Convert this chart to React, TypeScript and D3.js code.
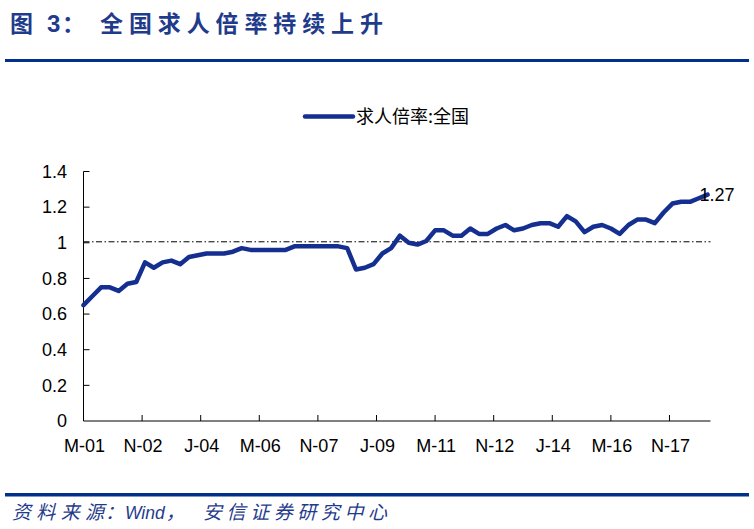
import React from "react";
import * as d3 from "d3";

// Quarterly observations (month, value)
const months: string[] = [
  "2001-03","2001-06","2001-09","2001-12","2002-03","2002-06","2002-09","2002-12",
  "2003-03","2003-06","2003-09","2003-12","2004-03","2004-06","2004-09","2004-12",
  "2005-03","2005-06","2005-09","2005-12","2006-03","2006-06","2006-09","2006-12",
  "2007-03","2007-06","2007-09","2007-12","2008-03","2008-06","2008-09","2008-12",
  "2009-03","2009-06","2009-09","2009-12","2010-03","2010-06","2010-09","2010-12",
  "2011-03","2011-06","2011-09","2011-12","2012-03","2012-06","2012-09","2012-12",
  "2013-03","2013-06","2013-09","2013-12","2014-03","2014-06","2014-09","2014-12",
  "2015-03","2015-06","2015-09","2015-12","2016-03","2016-06","2016-09","2016-12",
  "2017-03","2017-06","2017-09","2017-12","2018-03","2018-06","2018-09","2018-12",
];
const ratio: number[] = [
  0.65, 0.70, 0.75, 0.75, 0.73, 0.77, 0.78, 0.89,
  0.86, 0.89, 0.90, 0.88, 0.92, 0.93, 0.94, 0.94,
  0.94, 0.95, 0.97, 0.96, 0.96, 0.96, 0.96, 0.96,
  0.98, 0.98, 0.98, 0.98, 0.98, 0.98, 0.97, 0.85,
  0.86, 0.88, 0.94, 0.97, 1.04, 1.00, 0.99, 1.01,
  1.07, 1.07, 1.04, 1.04, 1.08, 1.05, 1.05, 1.08,
  1.10, 1.07, 1.08, 1.10, 1.11, 1.11, 1.09, 1.15,
  1.12, 1.06, 1.09, 1.10, 1.08, 1.05, 1.10, 1.13,
  1.13, 1.11, 1.17, 1.22, 1.23, 1.23, 1.25, 1.27,
];
const xTickLabels: string[] = ["M-01","N-02","J-04","M-06","N-07","J-09","M-11","N-12","J-14","M-16","N-17"];
const xTickMonths: string[] = ["2001-03","2002-11","2004-07","2006-03","2007-11","2009-07","2011-03","2012-11","2014-07","2016-03","2017-11"];
const yTicks: number[] = [0, 0.2, 0.4, 0.6, 0.8, 1, 1.2, 1.4];
const yTickLabels: string[] = ["0", "0.2", "0.4", "0.6", "0.8", "1", "1.2", "1.4"];
const refValue = 1;
const axisEndMonth = "2019-01";
const lastLabel = "1.27";
const seriesName = "求人倍率:全国";

const monthIndex = (s: string) => {
  const [y, m] = s.split("-").map(Number);
  return (y - 2001) * 12 + (m - 3);
};

export default function App() {
  const W = 754, H = 529;
  const left = 83.5, right = 710.5, top = 171.5, bottom = 421;
  const x = d3.scaleLinear().domain([0, monthIndex(axisEndMonth)]).range([left, right]);
  const y = d3.scaleLinear().domain([0, 1.4]).range([bottom, top]);
  const pts = months.map((m, i) => [monthIndex(m), ratio[i]] as [number, number]);
  const line = d3.line<[number, number]>().x(d => x(d[0])).y(d => y(d[1]));
  const blue = "#1f3b8c";
  const navy = "#00308a";
  const lineColor = "#152f91";
  const last = pts[pts.length - 1];
  const cjk = "'Noto Sans CJK SC', 'Noto Sans', sans-serif";
  const arial = "'Liberation Sans', Arial, sans-serif";

  return (
    <svg width={W} height={H} style={{ position: "absolute", left: 0, top: 0, background: "#fff" }}>
      {/* Title */}
      <g fill={blue} fontWeight="bold">
        <text x={10} y={32} fontFamily={cjk} fontSize={23}>图</text>
        <text x={47} y={32} fontFamily={arial} fontSize={24}>3</text>
        <text x={62} y={32} fontFamily={cjk} fontSize={23}>：</text>
        <text x={100} y={32} fontFamily={cjk} fontSize={23} textLength={283} lengthAdjust="spacing">全国求人倍率持续上升</text>
      </g>
      <rect x={5} y={59} width={744} height={3} fill={navy} />

      {/* Legend */}
      <line x1={305} x2={353} y1={116.5} y2={116.5} stroke={lineColor} strokeWidth={4.5} strokeLinecap="round" />
      <text x={356} y={123} fontFamily={cjk} fontSize={18} fill="#000">{seriesName}</text>

      {/* Axes */}
      <line x1={left} x2={left} y1={top} y2={bottom} stroke="#000" strokeWidth={1} />
      <line x1={left} x2={right} y1={bottom} y2={bottom} stroke="#000" strokeWidth={1} />
      {yTicks.map((t, i) => (
        <g key={"y" + i}>
          {t > 0 && <line x1={left} x2={left + 6} y1={y(t)} y2={y(t)} stroke="#000" />}
          <text x={67} y={y(t)} dy="0.35em" textAnchor="end" fontFamily={arial} fontSize={18} fill="#000">{yTickLabels[i]}</text>
        </g>
      ))}
      {xTickMonths.map((m, i) => (
        <g key={"x" + i}>
          {i > 0 && <line x1={x(monthIndex(m))} x2={x(monthIndex(m))} y1={bottom} y2={bottom - 6} stroke="#000" />}
          <text x={x(monthIndex(m)) + 1} y={452} textAnchor="middle" fontFamily={arial} fontSize={18} fill="#000">{xTickLabels[i]}</text>
        </g>
      ))}
      <line x1={left} x2={right} y1={y(refValue) - 1} y2={y(refValue) - 1} stroke="#000" strokeWidth={1} strokeDasharray="6,2.5,1.5,2.5" />

      {/* Series */}
      <path d={line(pts) || ""} fill="none" stroke={lineColor} strokeWidth={4.5} strokeLinejoin="round" strokeLinecap="round" />
      <text x={x(last[0]) - 8} y={y(last[1]) + 6} fontFamily={arial} fontSize={18} fill="#000">{lastLabel}</text>

      {/* Footer */}
      <rect x={5} y={493} width={744} height={3.5} fill={navy} />
      <g fill={blue} fontStyle="italic">
        <text x={12} y={519} fontFamily={cjk} fontSize={19} textLength={92} lengthAdjust="spacing">资料来源</text>
        <text x={105} y={519} fontFamily={cjk} fontSize={19}>：</text>
        <text x={125} y={519}>
          <tspan fontFamily={arial} fontSize={17.5}>Wind</tspan>
          <tspan fontFamily={cjk} fontSize={19} dx={1}>，</tspan>
        </text>
        <text x={203} y={519} fontFamily={cjk} fontSize={19} textLength={184} lengthAdjust="spacing">安信证券研究中心</text>
      </g>
    </svg>
  );
}
